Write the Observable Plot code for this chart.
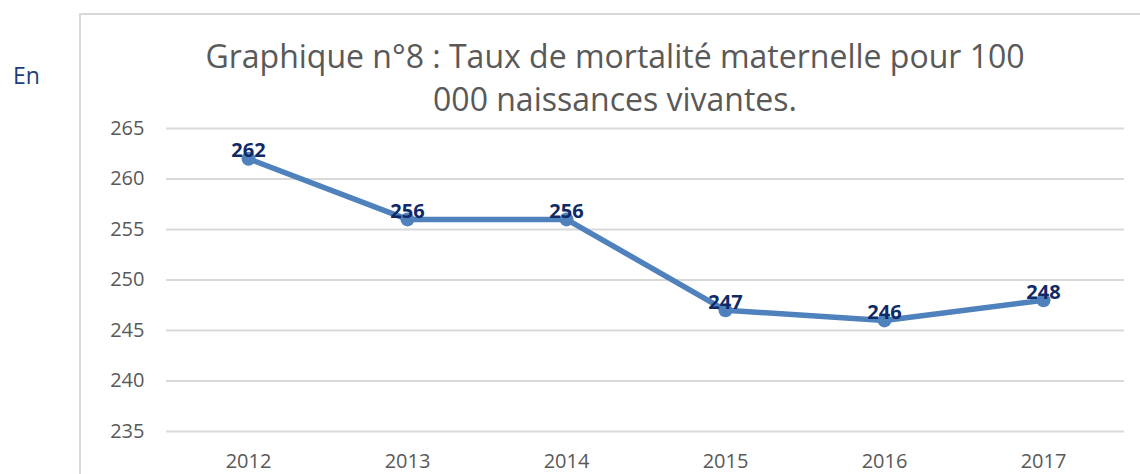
<!DOCTYPE html>
<html>
<head>
<meta charset="utf-8">
<script src="https://cdn.jsdelivr.net/npm/d3@7"></script>
<script src="https://cdn.jsdelivr.net/npm/@observablehq/plot@0.6"></script>
<style>
  html, body { margin: 0; padding: 0; background: #fff; }
  body { width: 1140px; height: 474px; overflow: hidden; position: relative; font-family: "Open Sans", "Liberation Sans", sans-serif; }
  #frame { position: absolute; left: 79px; top: 13px; width: 1100px; height: 520px; border: 2px solid #d9d9d9; box-sizing: border-box; }
  #en { position: absolute; left: 13px; top: 59px; font-size: 23px; color: #1f3c7a; }
  #title { position: absolute; left: 150px; width: 930px; top: 34px; text-align: center; font-size: 32px; line-height: 43px; color: #595959; }
  #chart { position: absolute; left: 0; top: 0; }
  #chart g[aria-label="y-axis tick label"], #chart g[aria-label="x-axis tick label"] { font-size: 20px !important; }
  #chart g[aria-label="y-axis tick label"] text, #chart g[aria-label="x-axis tick label"] text { font-size: 20px !important; }
</style>
</head>
<body>
<div id="frame"></div>
<div id="en">En</div>
<div id="title">Graphique n°8 : Taux de mortalité maternelle pour 100<br>000 naissances vivantes.</div>
<div id="chart"></div>
<script>
const years = ["2012", "2013", "2014", "2015", "2016", "2017"];
const rates = [262, 256, 256, 247, 246, 248];
const yTicks = [235, 240, 245, 250, 255, 260, 265];

const data = years.map((y, i) => ({year: y, rate: rates[i]}));

const chart = Plot.plot({
  width: 1140,
  height: 474,
  marginLeft: 166,
  marginRight: 16,
  marginTop: 128,
  marginBottom: 43,
  style: {fontFamily: "'Open Sans', 'Liberation Sans', sans-serif", fontSize: "20px", color: "#595959", background: "transparent"},
  x: {type: "point", domain: years, padding: 0.5, label: null},
  y: {domain: [235, 265], ticks: yTicks, label: null},
  marks: [
    Plot.gridY(yTicks, {stroke: "#d9d9d9", strokeOpacity: 1, strokeWidth: 2}),
    Plot.axisY({ticks: yTicks, tickSize: 0, tickPadding: 22, label: null, fill: "#595959", fontSize: 20}),
    Plot.axisX({tickSize: 0, tickPadding: 22, label: null, fill: "#595959", fontSize: 20}),
    Plot.line(data, {x: "year", y: "rate", stroke: "#4f81bd", strokeWidth: 5.5}),
    Plot.dot(data, {x: "year", y: "rate", fill: "#4f81bd", r: 7}),
    Plot.text(data, {x: "year", y: "rate", text: d => String(d.rate), dy: -8, fill: "#0f2a66", fontWeight: "bold", fontSize: 20})
  ]
});
document.getElementById("chart").appendChild(chart);
</script>
</body>
</html>
